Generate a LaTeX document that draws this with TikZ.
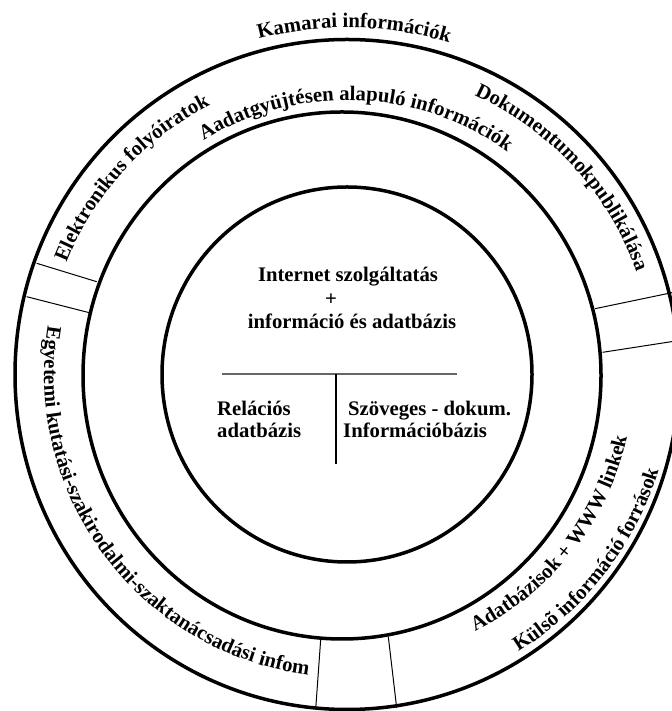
\documentclass[tikz,border=0pt]{standalone}
\usepackage{fontspec}
\setmainfont{Liberation Serif}
\usetikzlibrary{decorations.text}
\newcommand\lblfont{\fontsize{20.7}{23.5}\selectfont\bfseries}
\begin{document}
\begin{tikzpicture}[x=1pt,y=1pt,
  ring/.style={line width=3.5pt},
  divider/.style={line width=1pt},
  lbl/.style={font=\lblfont, inner sep=0pt},
  arctext/.style={decorate, decoration={text along path, text={|\lblfont|#1}, text align=left}},
  arctextc/.style={decorate, decoration={text along path, text={|\lblfont|#1}, text align=center}},
]
\useasboundingbox (0,0) rectangle (671,711);
\coordinate (C) at (347,336.5);
\coordinate (Cm) at (342,335.5);
% rings
\draw[ring] (C) ellipse[x radius=332, y radius=335];
\draw[ring] (Cm) ellipse[x radius=259, y radius=263.5];
\draw[ring] (C) ellipse[x radius=185, y radius=187.5];
% dividers
\coordinate (a1) at (36.7,447.7); \coordinate (a2) at (96.7,429.3);
\coordinate (b1) at (26.7,414.3); \coordinate (b2) at (89.3,398.3);
\coordinate (c1) at (595,402.3); \coordinate (c2) at (679,419.8);
\coordinate (e1) at (602.7,358.7); \coordinate (e2) at (679,370.5);
\coordinate (f1) at (320.7,71.7); \coordinate (f2) at (315.7,2);
\coordinate (g1) at (388.3,74.3); \coordinate (g2) at (396.7,3);
\draw[divider] (a1) -- (a2);
\draw[divider] (b1) -- (b2);
\draw[divider] (c1) -- (c2);
\draw[divider] (e1) -- (e2);
\draw[divider] (f1) -- (f2);
\draw[divider] (g1) -- (g2);
% centre
\node[lbl, anchor=base] (t1) at (348,429) {Internet szolgáltatás};
\node[lbl, anchor=base] (t2) at (331,405.5) {+};
\node[lbl, anchor=base] (t3) at (352,382) {információ és adatbázis};
\coordinate (hl) at (222,337); \coordinate (hr) at (457,337);
\coordinate (vt) at (336,337); \coordinate (vb) at (336,247);
\draw[line width=2pt, color=black!60] (hl) -- (hr);
\draw[line width=1.2pt] (vt) -- (vb);
\node[lbl, anchor=base west] (r1) at (217,295) {Relációs};
\node[lbl, anchor=base west] (r2) at (217,273) {adatbázis};
\node[lbl, anchor=base west] (s1) at (348,295) {Szöveges - dokum.};
\node[lbl, anchor=base west] (s2) at (343,273) {Információbázis};
% curved labels
\path[arctextc={Kamarai információk}] ([shift={(118.8:347)}]C) arc[start angle=118.8, end angle=58.8, radius=347];
\path[arctextc={Aadatgyüjtésen alapuló információk}] ([shift={(127.9:274.5)}]C) arc[start angle=127.9, end angle=47.9, radius=274.5];
\path[arctext={Elektronikus folyóiratok}] ([shift={(158.3:302)}]C) arc[start angle=158.3, end angle=100, radius=302];
\path[arctext={Dokumentumokpublikálása}] ([shift={(65.5:307)}]C) arc[start angle=65.5, end angle=5, radius=307];
\path[arctext={Egyetemi kutatási-szakirodalmi-szaktanácsadási infom}] ([shift={(170.7:303)}]C) arc[start angle=170.7, end angle=275, radius=303];
\path[arctext={Adatbázisok + WWW linkek}] ([shift={(-63.5:287)}]C) arc[start angle=-63.5, end angle=0, radius=287];
\path[arctext={Külsõ információ források}] ([shift={(-58.3:326)}]C) arc[start angle=-58.3, end angle=0, radius=326];
\end{tikzpicture}
\end{document}
